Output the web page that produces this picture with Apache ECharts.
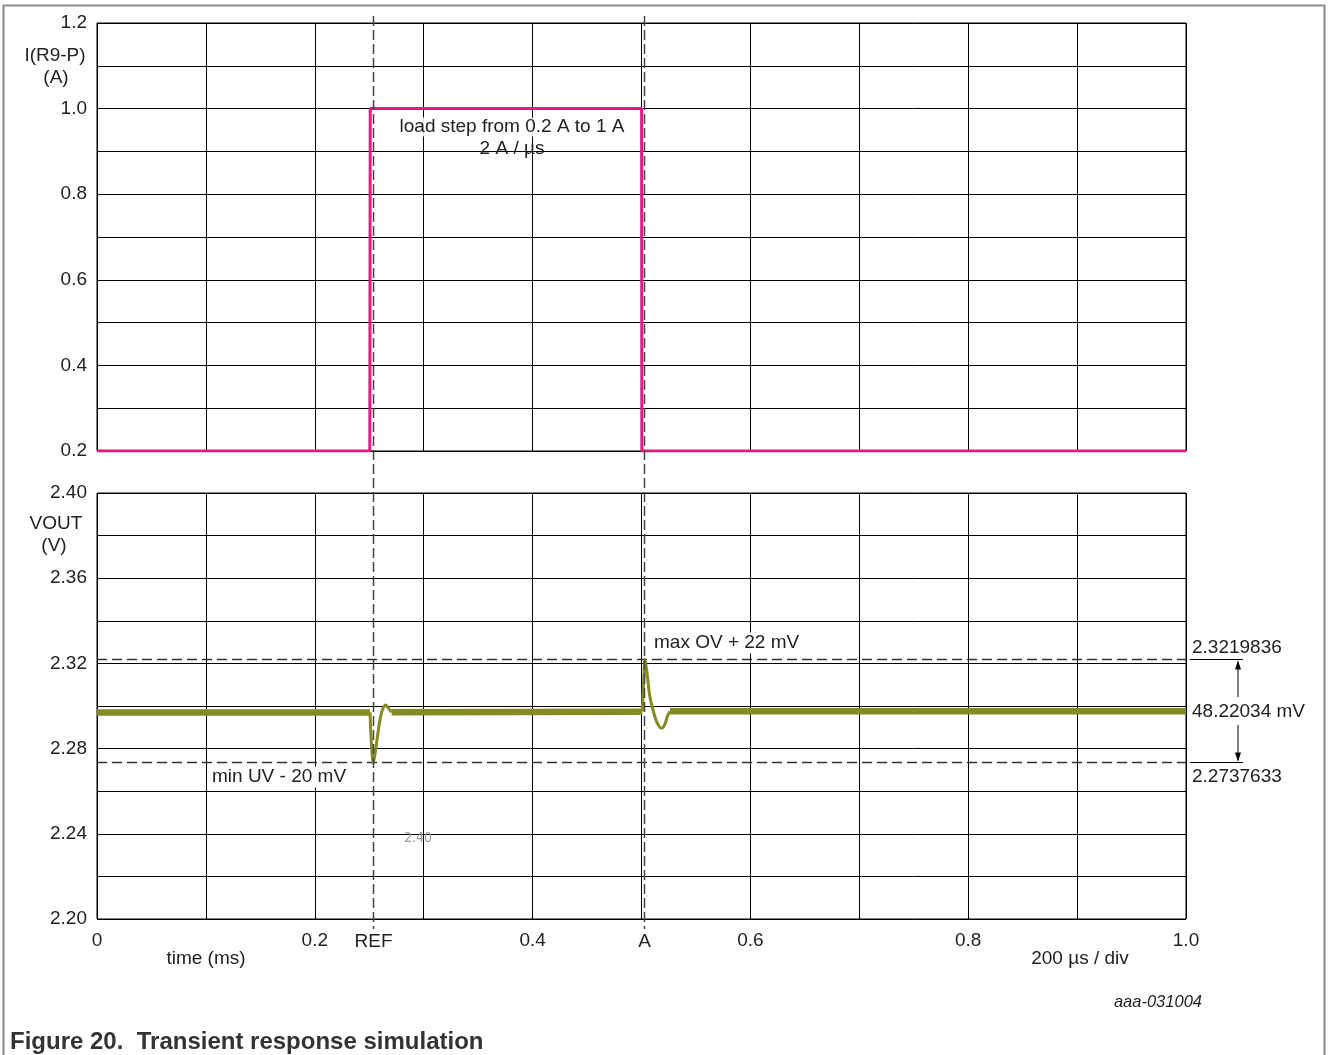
<!DOCTYPE html>
<html><head><meta charset="utf-8">
<script src="https://cdn.jsdelivr.net/npm/echarts@6/dist/echarts.min.js"></script>
<style>html,body{margin:0;padding:0;background:#fff}#c{width:1330px;height:1055px}</style>
</head><body><div id="c"></div>
<script>
// ---- data ----
const currentTime = [0, 0.2505, 0.2509, 0.5001, 0.5003, 1.0];
const currentVal  = [0.2, 0.2, 1.0, 1.0, 0.2, 0.2];
// VOUT steady-state segments (thick, ripple band)
const steady1Time = [0, 0.2507];        const steady1Val = [2.2970, 2.2970];
const steady2Time = [0.2706, 0.5007];   const steady2Val = [2.2971, 2.2973];
const steady3Time = [0.5262, 1.0];      const steady3Val = [2.2975, 2.2975];
// VOUT transients
const trans1Time = [0.2507, 0.2520, 0.2537, 0.2560, 0.2590, 0.2614, 0.2635, 0.2651, 0.2675, 0.2706];
const trans1Val  = [2.2970, 2.2820, 2.2731, 2.2800, 2.2910, 2.2971, 2.2998, 2.3005, 2.2990, 2.2971];
const trans2Time = [0.5007, 0.5020, 0.5032, 0.5050, 0.5075, 0.5109, 0.5145, 0.5185, 0.5215, 0.5240, 0.5262];
const trans2Val  = [2.2975, 2.3120, 2.3220, 2.3160, 2.3050, 2.2975, 2.2920, 2.2895, 2.2915, 2.2955, 2.2975];
const maxOV = 2.3219836, minUV = 2.2737633;
const deltaLabel = '48.22034 mV';
const markerTimes = [0.2533, 0.5027];
const markerNames = ['REF', 'A'];
const xTicks = ['0', '0.2', '0.4', '0.6', '0.8', '1.0'];

const zip = (t, v) => t.map((x, i) => [x, v[i]]);
const FONT = 'Liberation Sans, Arial, sans-serif';
const OLIVE = '#838b22', PINK = '#e6197f';
const FS = 19;

const chart = echarts.init(document.getElementById('c'), null, {renderer: 'canvas'});
const grids = [
  {left: 97, top: 23, width: 1089, height: 428, show: true, borderColor: '#000', borderWidth: 1},
  {left: 97, top: 493, width: 1089, height: 426, show: true, borderColor: '#000', borderWidth: 1}
];
const splitStyle = {show: true, lineStyle: {color: '#000', width: 1, type: 'solid'}};
const option = {
  animation: false,
  backgroundColor: '#fff',
  grid: grids,
  xAxis: [
    {type: 'value', gridIndex: 0, min: 0, max: 1, interval: 0.1, axisLine: {show: false}, axisTick: {show: false},
     axisLabel: {show: false}, splitLine: splitStyle},
    {type: 'value', gridIndex: 1, min: 0, max: 1, interval: 0.1, axisLine: {show: false}, axisTick: {show: false},
     axisLabel: {show: true, color: '#222', fontSize: FS, fontFamily: FONT, margin: 12,
       formatter: v => { const k = Math.round(v * 10); return k % 2 === 0 ? xTicks[k / 2] : ''; }},
     splitLine: splitStyle}
  ],
  yAxis: [
    {type: 'value', gridIndex: 0, min: 0.2, max: 1.2, interval: 0.1, axisLine: {show: false}, axisTick: {show: false},
     axisLabel: {color: '#222', fontSize: FS, fontFamily: FONT, margin: 10,
       formatter: v => { const k = Math.round(v * 10); return k % 2 === 0 ? (k / 10).toFixed(1) : ''; }},
     splitLine: splitStyle},
    {type: 'value', gridIndex: 1, min: 2.2, max: 2.4, interval: 0.02, axisLine: {show: false}, axisTick: {show: false},
     axisLabel: {color: '#222', fontSize: FS, fontFamily: FONT, margin: 10,
       formatter: v => { const k = Math.round(v * 100); return k % 4 === 0 ? (k / 100).toFixed(2) : ''; }},
     splitLine: splitStyle}
  ],
  series: [
    {type: 'line', xAxisIndex: 0, yAxisIndex: 0, data: zip(currentTime, currentVal), symbol: 'none',
     lineStyle: {color: PINK, width: 3}, z: 5},
    {type: 'line', xAxisIndex: 1, yAxisIndex: 1, data: zip(trans1Time, trans1Val), symbol: 'none', smooth: 0.3,
     lineStyle: {color: OLIVE, width: 3}, z: 5},
    {type: 'line', xAxisIndex: 1, yAxisIndex: 1, data: zip(trans2Time, trans2Val), symbol: 'none', smooth: 0.3,
     lineStyle: {color: OLIVE, width: 3}, z: 5},
    {type: 'line', xAxisIndex: 1, yAxisIndex: 1, data: zip(steady1Time, steady1Val), symbol: 'none',
     lineStyle: {color: OLIVE, width: 6.5}, z: 6},
    {type: 'line', xAxisIndex: 1, yAxisIndex: 1, data: zip(steady2Time, steady2Val), symbol: 'none',
     lineStyle: {color: OLIVE, width: 6.5}, z: 6},
    {type: 'line', xAxisIndex: 1, yAxisIndex: 1, data: zip(steady3Time, steady3Val), symbol: 'none',
     lineStyle: {color: OLIVE, width: 6.5}, z: 6,
     markLine: {silent: true, symbol: 'none', label: {show: false}, precision: 8,
       lineStyle: {color: '#333', type: [10, 5], width: 1.4},
       data: [{yAxis: maxOV}, {yAxis: minUV}]}}
  ]
};
chart.setOption(option);

// ---- annotations via axis conversion ----
const px = t => chart.convertToPixel({xAxisIndex: 1}, t);
const pyV = v => chart.convertToPixel({yAxisIndex: 1}, v);
const g = [];
const txt = (x, y, s, opt) => g.push({type: 'text', x, y, z: 20, style: Object.assign({text: s, font: FS + 'px ' + FONT, fill: '#222', textAlign: 'left', textVerticalAlign: 'middle'}, opt || {})});
// frame
g.push({type: 'rect', shape: {x: 3.5, y: 5.5, width: 1321, height: 1070}, style: {fill: 'none', stroke: '#8a8a8a', lineWidth: 2}, z: 1});
// markers
markerTimes.forEach((t, i) => {
  const x = Math.round(px(t)) + 0.5;
  g.push({type: 'line', shape: {x1: x, y1: 16, x2: x, y2: 929}, style: {stroke: '#444', lineWidth: 1.5, lineDash: [10, 4]}, z: 15});
  txt(x, 942, markerNames[i], {textAlign: 'center'});
});
// axis titles
txt(55, 56, 'I(R9-P)', {textAlign: 'center'});
txt(56, 78, '(A)', {textAlign: 'center'});
txt(56, 524, 'VOUT', {textAlign: 'center'});
txt(54, 546, '(V)', {textAlign: 'center'});
txt(206, 959, 'time (ms)', {textAlign: 'center'});
txt(1080, 959, '200 µs / div', {textAlign: 'center'});
txt(1202, 1002, 'aaa-031004', {textAlign: 'right', font: 'italic 16.5px ' + FONT});
txt(10, 1042, 'Figure 20.  Transient response simulation', {font: 'bold 24px ' + FONT, fill: '#333'});
// load step text
txt(512, 127, 'load step from 0.2 A to 1 A', {textAlign: 'center', backgroundColor: 'rgba(255,255,255,0.85)'});
txt(512, 149, '2 A / µs', {textAlign: 'center'});
// OV / UV labels
txt(652, 643, 'max OV + 22 mV', {backgroundColor: '#fff', padding: [1, 2]});
txt(210, 777, 'min UV - 20 mV', {backgroundColor: '#fff', padding: [1, 2]});
// stray small label
txt(404, 838, '2.40', {font: '14px DejaVu Sans Condensed, sans-serif', fill: '#9a9a9a'});
// right side measurement
const yOV = Math.round(pyV(maxOV)) + 0.5, yUV = Math.round(pyV(minUV)) + 0.5;
const xR = px(1.0);
g.push({type: 'line', shape: {x1: xR + 4, y1: yOV, x2: xR + 57, y2: yOV}, style: {stroke: '#000', lineWidth: 1}, z: 15});
g.push({type: 'line', shape: {x1: xR + 4, y1: yUV, x2: xR + 57, y2: yUV}, style: {stroke: '#000', lineWidth: 1}, z: 15});
const xa = xR + 52;
const yMid = (yOV + yUV) / 2;
g.push({type: 'line', shape: {x1: xa, y1: yOV + 2, x2: xa, y2: yMid - 14}, style: {stroke: '#000', lineWidth: 1}, z: 15});
g.push({type: 'line', shape: {x1: xa, y1: yMid + 14, x2: xa, y2: yUV - 2}, style: {stroke: '#000', lineWidth: 1}, z: 15});
g.push({type: 'polygon', shape: {points: [[xa, yOV + 1], [xa - 3, yOV + 10], [xa + 3, yOV + 10]]}, style: {fill: '#000'}, z: 15});
g.push({type: 'polygon', shape: {points: [[xa, yUV - 1], [xa - 3, yUV - 10], [xa + 3, yUV - 10]]}, style: {fill: '#000'}, z: 15});
txt(xR + 6, yOV - 12, '2.3219836');
txt(xR + 6, yMid + 1, deltaLabel, {backgroundColor: '#fff'});
txt(xR + 6, yUV + 14, '2.2737633');
chart.setOption({graphic: g});
</script></body></html>
